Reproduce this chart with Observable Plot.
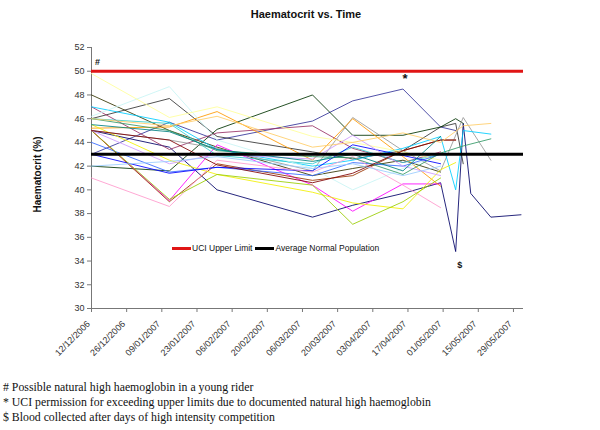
<!DOCTYPE html>
<html><head><meta charset="utf-8">
<script src="https://cdn.jsdelivr.net/npm/d3@7"></script>
<script src="https://cdn.jsdelivr.net/npm/@observablehq/plot@0.6"></script>
<style>
body{margin:0;background:#fff;}
#wrap{position:relative;width:600px;height:430px;overflow:hidden;font-family:"Liberation Sans",Arial,sans-serif;color:#111;}
#title{position:absolute;left:0;width:612px;top:8px;text-align:center;font-weight:bold;font-size:11px;}
#chart{position:absolute;left:0;top:28px;}
#ylab{position:absolute;left:-23px;top:169px;width:120px;text-align:center;font-weight:bold;font-size:10px;transform:rotate(-90deg);}
#legend{position:absolute;left:172px;top:243px;font-size:8.5px;white-space:nowrap;display:flex;align-items:center;}
#legend .sw{display:inline-block;width:19px;height:3px;margin-right:1px;}
#legend .it{display:flex;align-items:center;margin-right:3px;}
#notes{position:absolute;left:3px;top:380px;font-family:"Liberation Serif","Times New Roman",serif;font-size:11.8px;line-height:15px;}
</style>
</head><body>
<div id="wrap">
  <div id="title">Haematocrit vs. Time</div>
  <div id="chart"></div>
  <div id="ylab">Haematocrit (%)</div>
  <div id="legend"></div>
  <div id="notes"></div>
</div>
<script>
// ---- data ----
const dates = ["2006-12-12","2007-01-12","2007-01-31","2007-03-10","2007-03-26","2007-04-15","2007-04-30","2007-05-06","2007-05-09","2007-05-12","2007-05-20","2007-06-01"];
const tickDates = ["2006-12-12","2006-12-26","2007-01-09","2007-01-23","2007-02-06","2007-02-20","2007-03-06","2007-03-20","2007-04-03","2007-04-17","2007-05-01","2007-05-15","2007-05-29"];
const yTicks = [30,32,34,36,38,40,42,44,46,48,50,52];

const r01 = [43, 45.7, 44.2, 45.8, 47.5, 48.5, 45.3, 45.0, null, null, null, null];
const r02 = [45, 43.6, 40.0, 37.7, 38.7, 39.7, 40.6, 34.8, 45.6, 39.7, 37.7, 37.9];
const r03 = [46, 47.7, 44.5, 43.2, 42.6, 43.3, 45.3, 45.6, 42.2, null, null, null];
const r04 = [42, 41.6, 45.1, 48.0, 44.6, 44.6, 45.3, 46.0, 45.6, null, null, null];
const r05 = [48, 45.0, 43.6, 41.2, 41.8, 42.5, 41.5, null, null, null, null, null];
const r06 = [47, 43.4, 44.8, 45.4, 43.5, 42.3, 43.2, null, null, null, null, null];
const r07 = [45, 39.1, 43.8, 40.4, 38.2, 40.5, 40.5, null, null, null, null, null];
const r08 = [45, 39.0, 42.2, 40.8, 41.2, 43.3, 44.2, 44.2, null, null, null, null];
const r09 = [45, 44.2, 43.5, 41.6, 46.1, 43.3, 41.6, null, 46.1, null, 42.5, null];
const r10 = [45.2, 45.3, 46.6, 42.5, 46.0, 42.8, 40.3, null, null, null, null, null];
const r11 = [47, 45.7, 43.4, 42.0, 42.5, 43.5, 44.5, 40.0, 45.0, null, 44.7, null];
const r12 = [46, 45.6, 42.9, 42.2, 43.6, 42.3, 43.0, null, null, null, null, null];
const r13 = [46.2, 48.7, 44.2, 41.8, 40.0, 41.8, 43.0, null, null, null, null, null];
const r14 = [45.5, 42.5, 41.3, 39.8, 38.9, 38.4, 41.7, 42.3, null, null, null, null];
const r15 = [49.8, 46.1, 47.0, 44.5, 44.0, 43.2, 42.5, null, null, null, null, null];
const r16 = [44, 41.5, 41.9, 41.2, 42.3, 42.0, 43.0, null, null, null, null, null];
const r17 = [43, 41.4, 41.9, 41.6, 43.8, 42.9, 42.2, null, null, null, null, null];
const r18 = [41, 38.6, 42.5, 41.5, 42.8, 40.4, 38.5, null, null, null, null, null];
const r19 = [45, 39.2, 41.3, 40.4, 37.1, 39.0, 41.0, null, null, null, null, null];
const r20 = [45, 42.2, 43.0, 42.6, 44.6, 42.0, 41.2, null, null, null, null, null];
const r21 = [46, 45.0, 43.3, 42.8, 42.7, 41.3, 43.1, null, 43.7, null, 44.3, null];
const r22 = [45, 44.2, 42.1, 40.6, 41.4, 43.3, 44.2, 44.2, null, null, null, null];
const r23 = [46, 45.4, 46.2, 43.6, 44.0, 44.8, 44.0, null, 45.4, null, 45.6, null];
const r24 = [42, 42.4, 42.8, 41.8, 42.2, 41.2, 42.0, null, null, null, null, null];
const r25 = [45.5, 44.9, 43.4, 42.4, 43.0, 41.6, 44.5, null, null, null, null, null];

const riders = [r01,r02,r03,r04,r05,r06,r07,r08,r09,r10,r11,r12,r13,r14,r15,r16,r17,r18,r19,r20,r21,r22,r23,r24,r25];
const riderColors = ["#333399","#000066","#333333","#003300","#333300","#993366","#ff00ff","#993300","#969696","#ff9900","#00ccff","#33cccc","#c8f4f4","#f2f000","#ffff99","#3366ff","#0000ff","#ff99cc","#99cc00","#cc99ff","#339966","#800000","#ffcc66","#99ccff","#008080"];

const uciLimit = 50;
const normalAverage = 43;
const legendLabels = ["UCI Upper Limit","Average Normal Population"];
const noteLabels = ["#","*","$"];
const noteDates = ["2006-12-12","2007-04-15","2007-05-06"];
const noteValues = [50, 48.5, 34.8];
const footnotes = [
  "# Possible natural high haemoglobin in a young rider",
  "* UCI permission for exceeding upper limits due to documented natural high haemoglobin",
  "$ Blood collected after days of high intensity competition"
];

// ---- build ----
const parse = d3.utcParse("%Y-%m-%d");
const rows = riders.flatMap((vals, i) => vals.map((v, j) => ({rider: i, color: riderColors[i], date: parse(dates[j]), value: v})).filter(d => d.value != null));
const fmt = d3.utcFormat("%d/%m/%Y");
const notes = noteLabels.map((l, i) => ({label: l, date: parse(noteDates[i]), value: noteValues[i]}));
const noteOffsets = [{dx: 6, dy: -9, size: 9}, {dx: 2, dy: -10, size: 13}, {dx: 4, dy: 14, size: 9}];
const ticks = tickDates.map(parse);

const chart = Plot.plot({
  width: 600, height: 350,
  marginLeft: 91, marginRight: 77, marginTop: 19, marginBottom: 70,
  style: {fontFamily: "'Liberation Sans', Arial, sans-serif", fontSize: "9px", color: "#333", background: "#fff"},
  x: {type: "utc", domain: [parse("2006-12-12"), parse("2007-06-02")]},
  y: {domain: [30, 52]},
  color: {type: "identity"},
  marks: [
    Plot.axisX({ticks, tickFormat: () => "", tickSize: 4, label: null, stroke: "#777"}),
    Plot.axisX({ticks, tickFormat: fmt, tickRotate: -45, tickSize: 0, tickPadding: 14, dx: -3, label: null}),
    Plot.axisY({ticks: yTicks, tickSize: 4, tickPadding: 3, label: null, stroke: "#777"}),
    Plot.ruleY([30], {stroke: "#777"}),
    Plot.ruleX([parse("2006-12-12")], {stroke: "#777"}),
    Plot.line(rows, {x: "date", y: "value", z: "rider", stroke: "color", strokeWidth: 1, strokeOpacity: 0.85}),
    Plot.ruleY([uciLimit], {stroke: "#e01515", strokeWidth: 3.2}),
    Plot.ruleY([normalAverage], {stroke: "#000", strokeWidth: 3.2}),
    ...notes.map((n, i) => Plot.text([n], {x: "date", y: "value", text: "label", dx: noteOffsets[i].dx, dy: noteOffsets[i].dy, fontSize: noteOffsets[i].size, fontWeight: "bold", fill: "#111"}))
  ]
});
document.getElementById("chart").appendChild(chart);

const leg = document.getElementById("legend");
[["#e01515", legendLabels[0]], ["#000", legendLabels[1]]].forEach(([c, t]) => {
  const it = document.createElement("span"); it.className = "it";
  const sw = document.createElement("span"); sw.className = "sw"; sw.style.background = c;
  it.appendChild(sw); it.appendChild(document.createTextNode(t)); leg.appendChild(it);
});
const nt = document.getElementById("notes");
footnotes.forEach(t => { const d = document.createElement("div"); d.textContent = t; nt.appendChild(d); });
</script>
</body></html>
